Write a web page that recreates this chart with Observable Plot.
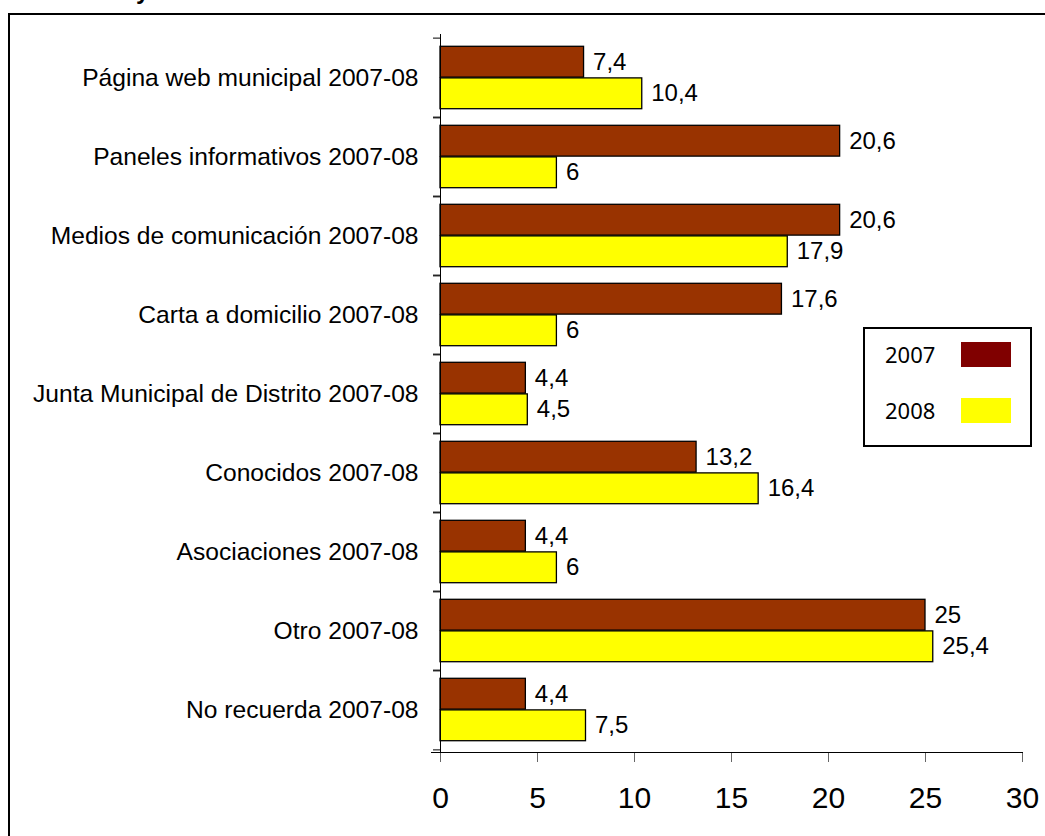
<!DOCTYPE html>
<html>
<head>
<meta charset="utf-8">
<script src="https://cdn.jsdelivr.net/npm/d3@7"></script>
<script src="https://cdn.jsdelivr.net/npm/@observablehq/plot@0.6"></script>
<style>
  html, body { margin: 0; padding: 0; background: #fff; }
  #wrap { position: relative; width: 1045px; height: 836px; overflow: hidden; font-family: "Liberation Sans", Arial, sans-serif; }
  #chart { position: absolute; left: 0; top: 0; }
  #border { position: absolute; left: 8px; top: 13px; width: 1200px; height: 1000px; border-left: 2px solid #000; border-top: 2px solid #000; }
  #titlefrag { position: absolute; left: 136px; top: -21px; font: bold 24px/24px "Liberation Sans", Arial, sans-serif; color: #000; }
  #legend { position: absolute; left: 863px; top: 327px; width: 165px; height: 116px; border: 2px solid #000; background: #fff; font-family: "Noto Sans", sans-serif; font-size: 22px; color: #000; }
  .lg-item { position: absolute; left: 20px; display: flex; align-items: center; }
  .lg-item span { display: inline-block; width: 76px; }
  .lg-item i { display: inline-block; width: 50px; height: 25px; }
</style>
</head>
<body>
<div id="wrap">
  <div id="titlefrag">y</div>
  <div id="border"></div>
  <div id="chart"></div>
  <div id="legend"></div>
</div>
<script>
const categories = [
  "Página web municipal 2007-08",
  "Paneles informativos 2007-08",
  "Medios de comunicación 2007-08",
  "Carta a domicilio 2007-08",
  "Junta Municipal de Distrito 2007-08",
  "Conocidos 2007-08",
  "Asociaciones 2007-08",
  "Otro 2007-08",
  "No recuerda 2007-08"
];
const values2007 = [7.4, 20.6, 20.6, 17.6, 4.4, 13.2, 4.4, 25, 4.4];
const values2008 = [10.4, 6, 17.9, 6, 4.5, 16.4, 6, 25.4, 7.5];
const years = ["2007", "2008"];
const barColors = ["#993300", "#FFFF00"];
const legendColors = ["#800000", "#FFFF00"];
const xTicks = [0, 5, 10, 15, 20, 25, 30];

const rows = categories.flatMap((c, i) => [
  {cat: c, year: "2007", value: values2007[i]},
  {cat: c, year: "2008", value: values2008[i]}
]);
const rows2007 = rows.filter(d => d.year === "2007");
const rows2008 = rows.filter(d => d.year === "2008");

const fmt = v => String(v).replace(".", ",");

const W = 1045, H = 836;
const mt = 34, mb = 84, ml = 440, mr = 23;
const bw = (H - mt - mb) / categories.length;
const pad = bw * 0.104;
const barH = (bw - 2 * pad) / 2;

const chart = Plot.plot({
  width: W,
  height: H,
  marginTop: mt,
  marginBottom: mb,
  marginLeft: ml,
  marginRight: mr,
  style: {fontFamily: "'Liberation Sans', Arial, sans-serif", background: "transparent", color: "#000"},
  x: {domain: [0, 30], ticks: xTicks, label: null},
  y: {domain: categories, padding: 0, label: null},
  color: {domain: years, range: barColors},
  marks: [
    Plot.barX(rows2007, {x: "value", y: "cat", fill: "year", stroke: "#000", strokeWidth: 1.3, insetTop: pad, insetBottom: pad + barH}),
    Plot.barX(rows2008, {x: "value", y: "cat", fill: "year", stroke: "#000", strokeWidth: 1.3, insetTop: pad + barH, insetBottom: pad}),
    Plot.text(rows2007, {x: "value", y: "cat", text: d => fmt(d.value), dy: -barH / 2, dx: 9, textAnchor: "start", fontSize: 24, fill: "#000"}),
    Plot.text(rows2008, {x: "value", y: "cat", text: d => fmt(d.value), dy: barH / 2, dx: 9, textAnchor: "start", fontSize: 24, fill: "#000"}),
    Plot.axisY({tickSize: 0, tickPadding: 22, fontSize: 24.6, label: null}),
    Plot.axisY({text: null, tickSize: 7, dy: -bw / 2, stroke: "#000", label: null}),
    Plot.axisY({text: null, tickSize: 7, dy: bw / 2, stroke: "#000", label: null}),
    Plot.axisX({ticks: xTicks, tickSize: 10, tickPadding: 24, fontSize: 30, label: null, stroke: "#666"}),
    Plot.ruleX([0], {stroke: "#000"}),
    Plot.frame({anchor: "bottom", stroke: "#000", insetLeft: -9})
  ]
});
document.getElementById("chart").appendChild(chart);

const legend = document.getElementById("legend");
years.forEach((y, i) => {
  const item = document.createElement("div");
  item.className = "lg-item";
  item.style.top = (i === 0 ? 10 : 66) + "px";
  item.innerHTML = `<span>${y}</span><i style="background:${legendColors[i]}"></i>`;
  legend.appendChild(item);
});
</script>
</body>
</html>
